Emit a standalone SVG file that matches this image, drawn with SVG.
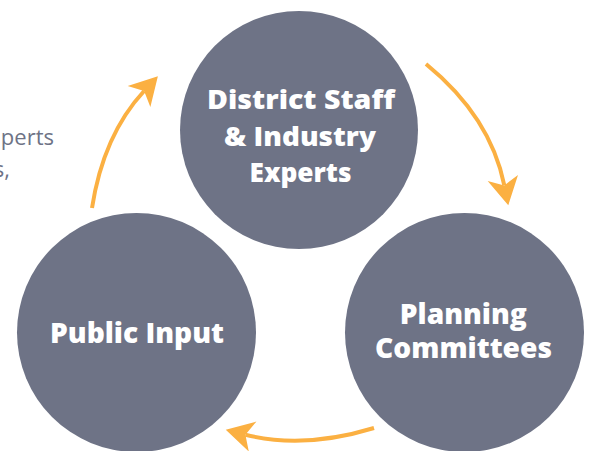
<svg xmlns="http://www.w3.org/2000/svg" width="591" height="451" viewBox="0 0 591 451">
  <style>
    .node { fill: #6e7386; }
    .label { fill: #ffffff; font-family: "Open Sans", Lato, sans-serif; font-weight: 800; text-anchor: middle; }
    .side { fill: #6e7386; font-family: "Open Sans", Lato, sans-serif; font-size: 22px; text-anchor: end; }
    .flow { fill: none; stroke: #fbb042; stroke-width: 4; marker-end: url(#head); }
  </style>
  <defs>
    <marker id="head" markerUnits="userSpaceOnUse" markerWidth="30" markerHeight="32" viewBox="0 -15 27 30" refX="7" refY="0" orient="auto">
      <path d="M0,-14.5 L26,0 L0,14.5 L7,0 Z" fill="#fbb042"/>
    </marker>
  </defs>

  <rect width="591" height="451" fill="#ffffff"/>

  <!-- side copy, running off the left edge -->
  <text class="side" x="54" y="145">perts</text>
  <text class="side" x="10" y="177">s,</text>

  <g id="connectors">
    <path class="flow" d="M92,208 Q103.3,135 144.1,91"/>
    <path class="flow" d="M426,64 Q490.6,116.8 504.3,185.4"/>
    <path class="flow" d="M374,428 Q303.5,449.5 245.4,434.7"/>
  </g>

  <g id="district-staff">
    <circle class="node" cx="299" cy="130" r="119"/>
    <text class="label" font-size="27" x="301" y="108.5" textLength="188" lengthAdjust="spacingAndGlyphs">District Staff</text>
    <text class="label" font-size="27" x="300" y="145.5" textLength="152" lengthAdjust="spacingAndGlyphs">&amp; Industry</text>
    <text class="label" font-size="27" x="300.5" y="181.5" textLength="102" lengthAdjust="spacingAndGlyphs">Experts</text>
  </g>

  <g id="public-input">
    <circle class="node" cx="136.5" cy="332.5" r="119.5"/>
    <text class="label" font-size="29" x="137" y="342.5" textLength="174" lengthAdjust="spacingAndGlyphs">Public Input</text>
  </g>

  <g id="planning-committees">
    <circle class="node" cx="464.5" cy="332.5" r="119.5"/>
    <text class="label" font-size="28" x="463.3" y="324" textLength="127" lengthAdjust="spacingAndGlyphs">Planning</text>
    <text class="label" font-size="28" x="463.5" y="358" textLength="177" lengthAdjust="spacingAndGlyphs">Committees</text>
  </g>
</svg>
